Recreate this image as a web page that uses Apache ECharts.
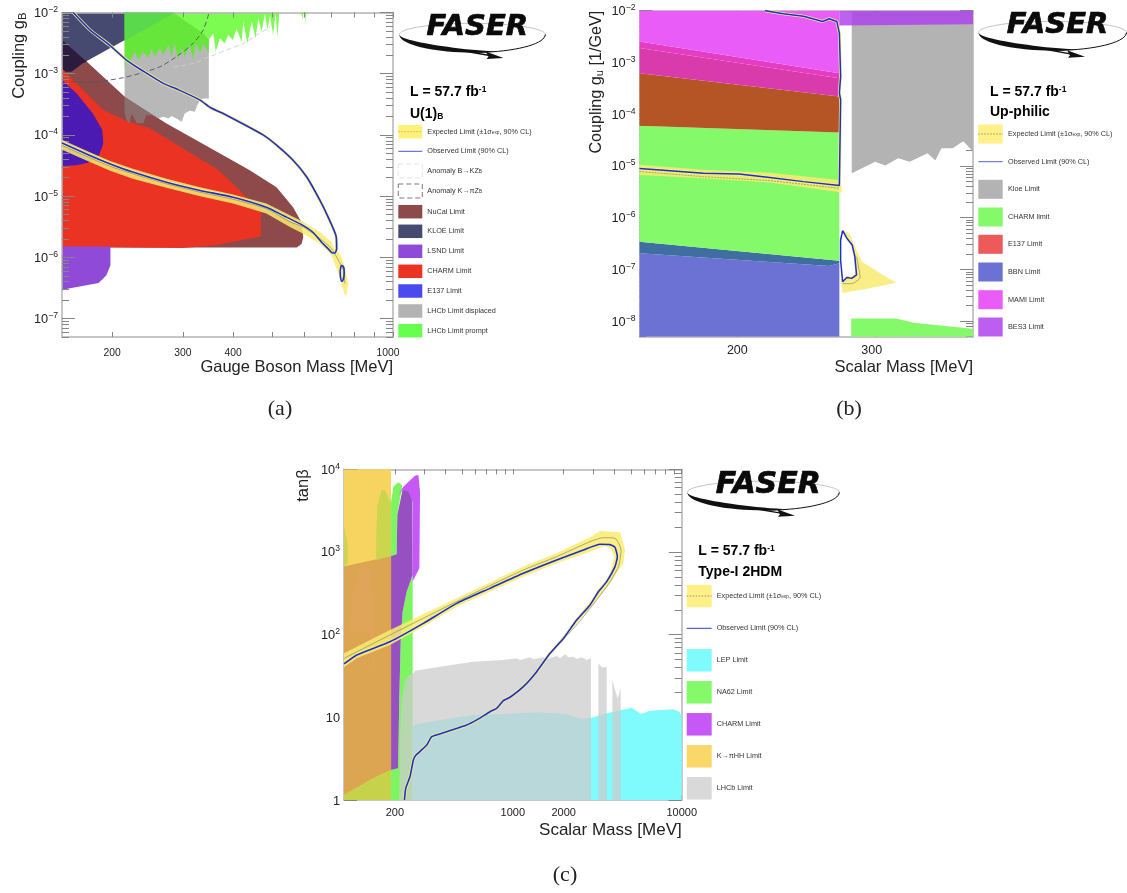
<!DOCTYPE html>
<html><head><meta charset="utf-8">
<style>html,body{margin:0;padding:0;background:#fff}#c{width:1127px;height:893px}#c canvas{filter:blur(0.35px)}</style>
<script src="https://cdn.jsdelivr.net/npm/echarts@6/dist/echarts.min.js"></script>
</head><body><div id="c"></div>
<script>
// ---------- panel (a) U(1)_B : [mass MeV, coupling]
const aKloe=[[150,1e-2],[286,1e-2],[169,1.48e-3],[158.5,1.08e-3],[150,1.08e-3]];
const aKloeNucal=[[150,3.55e-3],[173,1.57e-3],[169,1.48e-3],[158.5,1.08e-3],[150,1.08e-3]];
const aKloePrompt=[[214.7,1e-2],[286,1e-2],[214.7,3.5e-3]];
const aNucal=[[150,3.55e-3],[173,1.57e-3],[215,4.2e-4],[273,1.54e-4],[330,7.7e-5],[440,2.64e-5],[513,1.4e-5],[564,6.6e-6],[592,3.76e-6],[598,2.13e-6],[592,1.66e-6],[576,1.45e-6],[357,1.45e-6],[150,1.45e-6]];
const aCharm=[[150,1.22e-3],[166,6.1e-4],[190,2.55e-4],[216,1.7e-4],[248,1.28e-4],[300,6e-5],[364,2.8e-5],[400,1.6e-5],[469,5.5e-6],[469,2.2e-6],[357,1.56e-6],[300,1.42e-6],[244,1.44e-6],[150,1.5e-6]];
const aE137=[[150,7.9e-4],[163,4.8e-4],[179,2.24e-4],[189,1.2e-4],[190,7.2e-5],[185,4.4e-5],[174,3.5e-5],[163,3.2e-5],[150,3.1e-5]];
const aLsnd=[[150,1.5e-6],[198,1.5e-6],[198,7.4e-7],[193.5,5.1e-7],[185,3.8e-7],[166,3.35e-7],[150,2.95e-7]];
const aDisplaced=[[214.7,1e-2],[284,1e-2],[305,7.1e-3],[337,4.6e-3],[348,3.55e-3],[348,3.95e-4],[337,3.95e-4],[331,3.7e-4],[326,3.07e-4],[321,2.4e-4],[312,2.48e-4],[303,2.24e-4],[298,1.64e-4],[289,1.86e-4],[281,2.04e-4],[276,1.86e-4],[268,1.98e-4],[260,1.86e-4],[251,2.1e-4],[243,2.1e-4],[239,1.54e-4],[230,1.58e-4],[226,1.98e-4],[223,2.2e-4],[221,1.54e-4],[217,1.75e-4],[214.7,2.4e-4]];
const aPrompt=[[214.7,1e-2],[214.7,1.15e-3],[217,1.9e-3],[221,1.57e-3],[228,2.3e-3],[232,1.67e-3],[239,2.3e-3],[246,1.78e-3],[251,2.6e-3],[255,1.9e-3],[263,2.6e-3],[268,2e-3],[276,2.94e-3],[281,1.9e-3],[286,3.13e-3],[292,1.67e-3],[298,2.6e-3],[303,1.9e-3],[312,2.94e-3],[318,1.67e-3],[323,3.13e-3],[331,2.15e-3],[337,3.13e-3],[348,2.15e-3],[348,3.55e-3],[357,4.6e-3],[362,2.3e-3],[371,3.8e-3],[381,3.13e-3],[389,4.3e-3],[399,3.55e-3],[408,5.5e-3],[420,3.3e-3],[424,7.1e-3],[434,3.13e-3],[445,7.1e-3],[455,3.8e-3],[462,8e-3],[471,4.9e-3],[480,9.7e-3],[487,5.2e-3],[494,9.1e-3],[503,4.3e-3],[510,9.7e-3],[516,4e-3],[521,1e-2]];
const aPrompt2=[[592,1e-2],[595,7.5e-3],[598,1e-2]];
const aPrompt3=[[604,1e-2],[606,6.6e-3],[609,1e-2]];
const aAnomalyPi=[[158,7.4e-4],[179,7.3e-4],[197,7.9e-4],[213,8.6e-4],[239,1.05e-3],[263,1.3e-3],[289,1.9e-3],[318,3.13e-3],[337,5.2e-3],[348,9.7e-3]];
const aAnomalyK=[[284,1.27e-3],[318,1.48e-3],[350,1.9e-3],[385,2.44e-3],[424,3.13e-3],[466,4.6e-3],[494,5.9e-3],[518,9.1e-3]];
const aBand=[[150,8.35e-5],[176,5.2e-5],[197,3.8e-5],[225,2.8e-5],[273,1.92e-5],[331,1.4e-5],[400,1.06e-5],[484,7.55e-6],[554,4.86e-6],[598,3.8e-6],[658,2.6e-6],[703,1.78e-6],[717,1.3e-6],[738,1.15e-6],[759,7e-7],[774,3.74e-7],[766,2.4e-7],[759,2.4e-7],[731,5.45e-7],[703,1.08e-6],[658,1.67e-6],[598,2.44e-6],[554,3.13e-6],[484,5.2e-6],[400,7.55e-6],[331,9.95e-6],[273,1.37e-5],[225,1.92e-5],[197,2.63e-5],[176,3.6e-5],[150,5.7e-5]];
const aExpected=[[150,6.74e-5],[176,4.24e-5],[197,3.1e-5],[225,2.32e-5],[273,1.59e-5],[331,1.16e-5],[400,8.9e-6],[484,6.25e-6],[554,3.8e-6],[598,3.13e-6],[658,2.02e-6],[703,1.39e-6],[731,9e-7],[752,6.2e-7],[759,3.74e-7]];
const aObserved=[[160,1e-2],[176,5.2e-3],[197,2.94e-3],[217,1.67e-3],[239,1.1e-3],[268,6.95e-4],[292,5.5e-4],[331,3.7e-4],[351,2.8e-4],[385,2.1e-4],[475,1e-4],[513,6.8e-5],[564,3.85e-5],[610,2.05e-5],[658,8.5e-6],[690,4.5e-6],[721,2.27e-6],[724,1.38e-6],[717,1.18e-6],[707,1.18e-6],[690,1.38e-6],[664,1.77e-6],[632,2.57e-6],[598,3.3e-6],[533,4.83e-6],[484,6.6e-6],[400,9.6e-6],[331,1.24e-5],[273,1.69e-5],[225,2.47e-5],[197,3.38e-5],[176,4.6e-5],[150,7.4e-5]];
const aIsland=[[748,7.45e-7],[755,6.6e-7],[756,5.45e-7],[752,4.35e-7],[746,4.08e-7],[740,4.8e-7],[739,6e-7],[743,7.2e-7],[748,7.45e-7]];
const aXTicks=[200,300,400,500,600,700,800,900,1000];
const aXLabels=[200,300,400,1000];

// ---------- panel (b) Up-philic
const bMami=[[150,1e-2],[270,1e-2],[270,6.2e-4],[150,2.55e-3]];
const bSliver=[[150,2.55e-3],[270,6.2e-4],[270,4.97e-4],[150,1.9e-3]];
const bMamiE137=[[150,1.9e-3],[270,4.97e-4],[270,2.2e-4],[150,6.2e-4]];
const bE137Charm=[[150,6.2e-4],[270,2.2e-4],[270,4.4e-5],[150,5.95e-5]];
const bCharm=[[150,5.95e-5],[270,4.4e-5],[270,1.47e-7],[150,3.43e-7]];
const bCharmBbn=[[150,3.43e-7],[270,1.47e-7],[270,1.31e-7],[262,1.16e-7],[150,2.04e-7]];
const bBbn=[[150,2.04e-7],[262,1.16e-7],[270,1.31e-7],[270,5e-9],[150,5e-9]];
const bBes=[[270,1e-2],[400,1e-2],[400,5.5e-3],[270,5.2e-3]];
const bKloe=[[280,1e-2],[400,1e-2],[400,1.9e-5],[389,2.95e-5],[385,2.75e-5],[377,2.2e-5],[364.5,2.2e-5],[358,1.27e-5],[350,1.76e-5],[332,1.21e-5],[321,1.41e-5],[309,1.02e-5],[300,1.21e-5],[280,7.2e-6]];
const bCharmLow=[[279.6,5e-9],[279.6,1.13e-8],[319,1.13e-8],[336,9.3e-9],[396,7.2e-9],[400,7e-9],[400,5e-9]];
const bBand=[[150,1.05e-5],[181,8.4e-6],[220,7.4e-6],[270,5.36e-6],[272,3.86e-6],[272,3.05e-6],[220,4.76e-6],[181,5.77e-6],[150,6.7e-6]];
const bBandLow=[[272.6,5.8e-7],[278,4.97e-7],[284,2.37e-7],[288.5,1.41e-7],[307,7.8e-8],[319,5.5e-8],[295,4.3e-8],[272.6,3.5e-8],[271,6.5e-8],[272.6,6.3e-8],[276,7.5e-8],[280,7.3e-8],[283,8.5e-8],[281.6,1.76e-7],[279.4,2.96e-7],[275.5,4.1e-7],[272.6,5.5e-7]];
const bExpected=[[150,7.8e-6],[181,6.2e-6],[220,5.2e-6],[270,3.7e-6]];
const bExpectedLow=[[272.6,5.3e-8],[280,5.3e-8],[287,7e-8],[284,1.76e-7]];
const bObserved=[[150,8.9e-6],[164,8.1e-6],[181,7.2e-6],[201,7e-6],[220,6e-6],[243,4.97e-6],[270,4.2e-6],[271,1.9e-4],[270,2.55e-4],[271,5.4e-4],[270,3.7e-3],[268,6.2e-3],[262,7e-3],[257,6.2e-3],[243,7.8e-3],[229,8.7e-3],[217,1e-2]];
const bIsland=[[272.6,5.6e-7],[276,4e-7],[280.4,2.96e-7],[282.6,1.76e-7],[284,7.8e-8],[280,6.7e-8],[276,7e-8],[272.6,5.77e-8],[271,1.5e-7],[271,3.7e-7],[272.6,5.6e-7]];
const bXTicks=[200,300];
const bXLabels=[200,300];

// ---------- panel (c) Type-I 2HDM : [mass MeV, tan beta]
const cKhh=[[100,1e4],[190,1e4],[190,1],[100,1]];
const cKhhLow=[[100,665],[190,895],[190,2.3],[149,1.83],[100,1.15]];
const cBottom=[[100,1],[100,1.15],[149,1.83],[190,2.3],[190,1]];
const cSpike=[[155,800],[155,1680],[158,3700],[167,5630],[175,5630],[183,4460],[190,4060],[190,895]];
const cSliver=[[100,2025],[105,1273],[105,729],[100,665]];
const cBump=[[107.5,109],[113.6,363],[121.6,606],[133,729],[142.6,578],[149,275],[154,27],[140,109]];
const cNaTop=[[190,4060],[196,6170],[210,6960],[222,6340],[215,4460],[207,2800],[205,937],[190,895]];
const cNaLow=[[255,527],[235,331],[222.6,190],[216.6,82],[212.6,17],[209,2.42],[190,2.3],[190,1],[255,1]];
const cCharm=[[210,4880],[224.6,6170],[263,8380],[275.7,8540],[282,5370],[279.5,634],[255,438],[255,4060],[222,5630]];
const cCharmDark=[[190,895],[205,937],[207,2800],[222,5630],[240.5,5370],[254,4060],[255,527],[235,331],[222.6,190],[216.6,82],[212.6,17],[209,2.42],[190,2.3]];
const cLep=[[255,1],[255,8.07],[370,9.3],[583,10.7],[919,11],[1449,11.5],[2083,11],[2500,9.7],[2930,9.9],[3596,11.2],[5058,13.1],[5742,11],[6488,12],[8930,12.5],[9690,11.7],[10000,10.2],[10000,1]];
const cLhcb=[[212.6,1],[214.6,5.84],[219.6,16.2],[229.7,27],[240.5,32.5],[257.5,34],[263,36.7],[370,41],[583,47],[878,49.4],[1054,51.7],[1103,49.4],[1264,53.2],[1323,50.3],[1516,53.2],[1587,50.8],[1818,55.2],[1903,51.7],[2037,57.8],[2132,53.2],[2282,54.2],[2388,50.8],[2557,53.2],[2737,49.4],[2904,51.7],[2904,1]];
const cLhcb2=[[3209,1],[3209,45],[3360,40.3],[3596,40.3],[3596,1]];
const cLhcb3=[[3885,1],[3885,28.8],[4028,21.4],[4178,17],[4352,22.4],[4352,1]];
const cBand=[[100,59.4],[187,114],[465,275],[1154,665],[1818,964],[2866,1503],[3283,1795],[4313,1730],[4618,1057],[4513,729],[3763,418],[2866,208],[2388,137],[1660,54],[2388,158],[2866,251],[3678,480],[3975,838],[3848,1077],[3516,1180],[2866,1009],[1818,729],[1154,503],[732,331],[465,218],[295,125],[187,75],[119,51.7],[100,40.3]];
const cExpected=[[100,51.7],[187,99],[465,251],[1154,606],[1818,878],[2866,1333],[3436,1490],[4028,1463],[4373,1057],[4217,665],[3596,381],[2388,131],[1660,60]];
const cObserved=[[228,1],[232,1.38],[246,1.92],[257.5,3.05],[267,3.5],[288,4.03],[309,4.63],[331,5.84],[406,6.7],[533,8.07],[611,9.3],[732,11.7],[802,12.85],[878,15.9],[962,17.5],[1154,23.5],[1384,35.7],[1660,59.4],[1991,90],[2388,150],[2866,229],[3209,331],[3596,438],[4028,665],[4159,878],[4028,1139],[3763,1227],[3283,1238],[2616,1057],[1818,800],[1154,552],[732,363],[465,239],[295,137],[187,82],[119,56.8],[100,44.2]];
const cXTicks=[200,300,400,500,600,700,800,900,1000,2000,3000,4000,5000,6000,7000,8000,9000,10000];
const cXLabels=[200,1000,2000,10000];

function decades(min,max){const o=[];for(let e=-9;e<=4;e++){const v=Number('1e'+e);if(v>=min*0.999&&v<=max*1.001)o.push(v);}return o;}
function minors(min,max){const o=[];for(let e=-9;e<=4;e++){for(let k=2;k<=9;k++){const v=Number(k+'e'+e);if(v>=min&&v<=max)o.push(v);}}return o;}

const FONT='"Liberation Sans"', frame='#b4b4b4', tickC='#858585';
const xAxes=[],yAxes=[],series=[];
const panels=[
 {left:62,top:12.5,w:331,h:324.5,x:[150,1000],y:[5e-8,1e-2],xt:aXTicks,xl:aXLabels,lf:10.3,lm:11,shift:{1000:10},xname:'Gauge Boson Mass [MeV]',xf:16.5,yname:'Coupling g{sub|B}',yf:16.5,ypad:34},
 {left:639.5,top:10.7,w:333.5,h:326,x:[150,400],y:[5e-9,1e-2],xt:bXTicks,xl:bXLabels,lf:12.5,lm:7,shift:{300:7},xname:'Scalar Mass [MeV]',xf:16.5,yname:'Coupling g{sub|u} [1/GeV]',yf:16.2,ypad:34},
 {left:344,top:469.3,w:337.7,h:330.7,x:[100,10000],y:[1,1e4],xt:cXTicks,xl:cXLabels,lf:11,lm:7,shift:{},xname:'Scalar Mass [MeV]',xf:17,yname:'tanβ',yf:16.5,ypad:32}
];
const grids=panels.map(p=>({left:p.left,top:p.top,width:p.w,height:p.h,show:false}));
function yLab(v){const e=Math.round(Math.log10(v));if(e===0)return '{b|1}';if(e===1)return '{b|10}';return '{b|10}{s|'+String(e).replace('-','−')+'}';}
panels.forEach((p,i)=>{
 const common={type:'log',logBase:10,gridIndex:i,splitLine:{show:false},minorTick:{show:false},minorSplitLine:{show:false},z:8};
 const line={show:true,onZero:false,lineStyle:{color:frame,width:1.5}};
 const xRich={};Object.keys(p.shift).forEach(k=>{xRich['r'+k]={fontFamily:FONT,fontSize:p.lf,color:'#222',padding:[0,p.shift[k],0,0]};});
 xAxes.push({...common,min:p.x[0],max:p.x[1],position:'bottom',axisLine:line,
   axisTick:{show:true,inside:true,length:5,customValues:p.xt,lineStyle:{color:tickC,width:1}},
   axisLabel:{show:true,customValues:p.xl,margin:p.lm,fontFamily:FONT,fontSize:p.lf,color:'#222',hideOverlap:false,showMinLabel:true,showMaxLabel:true,rich:xRich,
     formatter:v=>{const s=String(Math.round(v));return p.shift[s]?'{r'+s+'|'+s+'}':s;}},
   name:p.xname,nameLocation:'end',nameGap:0,nameMoveOverlap:false,nameTextStyle:{fontFamily:FONT,fontSize:p.xf,color:'#222',align:'right',verticalAlign:'top',padding:[22,0,0,0]}});
 xAxes.push({...common,min:p.x[0],max:p.x[1],position:'top',axisLine:line,
   axisTick:{show:true,inside:true,length:5,customValues:p.xt,lineStyle:{color:tickC,width:1}},axisLabel:{show:false}});
 const maj=decades(p.y[0],p.y[1]),mi=minors(p.y[0],p.y[1]);
 yAxes.push({...common,min:p.y[0],max:p.y[1],position:'left',axisLine:line,
   axisTick:{show:true,inside:true,length:13,customValues:maj,lineStyle:{color:tickC,width:1}},
   axisLabel:{show:true,customValues:maj,margin:4,formatter:yLab,hideOverlap:false,showMinLabel:true,showMaxLabel:true,
     rich:{b:{fontFamily:FONT,fontSize:12.8,color:'#222',lineHeight:15,verticalAlign:'bottom'},s:{fontFamily:FONT,fontSize:8.6,color:'#222',lineHeight:15,verticalAlign:'top'}}},
   name:p.yname,nameLocation:'end',nameGap:0,nameRotate:90,nameMoveOverlap:false,
   nameTextStyle:{fontFamily:FONT,fontSize:p.yf,color:'#222',align:'right',verticalAlign:'bottom',padding:[0,0,p.ypad,0],
     rich:{sub:{fontFamily:FONT,fontSize:p.yf*0.68,color:'#222',verticalAlign:'bottom',padding:[6,0,0,0]}}}});
 yAxes.push({...common,min:p.y[0],max:p.y[1],position:'left',axisLine:{show:false},
   axisTick:{show:true,inside:true,length:7,customValues:mi,lineStyle:{color:tickC,width:1}},axisLabel:{show:false}});
 yAxes.push({...common,min:p.y[0],max:p.y[1],position:'right',axisLine:line,
   axisTick:{show:true,inside:true,length:13,customValues:maj,lineStyle:{color:tickC,width:1}},axisLabel:{show:false}});
 yAxes.push({...common,min:p.y[0],max:p.y[1],position:'right',axisLine:{show:false},
   axisTick:{show:true,inside:true,length:7,customValues:mi,lineStyle:{color:tickC,width:1}},axisLabel:{show:false}});
});
let zc=1;
function poly(g,name,data,fill){
 series.push({type:'custom',name,coordinateSystem:'cartesian2d',xAxisIndex:g*2,yAxisIndex:g*4,clip:true,silent:true,animation:false,z:zc++,
  data,encode:{x:0,y:1},renderItem(pa,api){if(pa.dataIndex!==0)return;return{type:'polygon',shape:{points:data.map(q=>api.coord(q))},style:{fill}};}});
}
function line(g,name,data,color,width,dash,smooth){
 series.push({type:'line',name,xAxisIndex:g*2,yAxisIndex:g*4,data,showSymbol:false,symbol:'none',silent:true,animation:false,clip:true,z:zc++,
  smooth:smooth||0,lineStyle:{color,width,type:dash||'solid'}});
}
const YEL='rgba(250,235,110,0.85)',YEL2='#f9ee86',BLUE='#1a2fcc',EXP='#8a8a6a';
// panel a
poly(0,'KLOE Limit',aKloe,'#474a70');
poly(0,'NuCal Limit',aNucal,'#8e4a4a');
poly(0,'KLOE and NuCal',aKloeNucal,'#2b1b3f');
poly(0,'CHARM Limit',aCharm,'#ea3322');
poly(0,'E137 Limit',aE137,'#4b1ab3');
poly(0,'LSND Limit',aLsnd,'#8f4bd8');
poly(0,'LHCb Limit displaced',aDisplaced,'rgba(137,137,137,0.6)');
poly(0,'LHCb Limit prompt',aPrompt,'rgba(65,251,1,0.69)');
poly(0,'LHCb Limit prompt',aPrompt2,'rgba(65,251,1,0.69)');
poly(0,'LHCb Limit prompt',aPrompt3,'rgba(65,251,1,0.69)');
poly(0,'KLOE and LHCb prompt',aKloePrompt,'#5bd94c');
line(0,'Anomaly K→πZB',aAnomalyPi,'#555',0.9,[5,3],0.3);
line(0,'Anomaly B→KZB',aAnomalyK,'#cfcfcf',0.9,[5,3],0.3);
poly(0,'Expected Limit',aBand,YEL);
line(0,'Expected band edge',aObserved,YEL2,3.2,null,0.2);
line(0,'Expected Limit',aExpected,EXP,0.7,null,0.2);
line(0,'Observed Limit',aObserved,BLUE,1.6,null,0.2);
line(0,'Observed Limit',aIsland,BLUE,1.6,null,0.3);
// panel b
poly(1,'BBN Limit',bBbn,'#6c72d3');
poly(1,'CHARM and BBN',bCharmBbn,'#3f6ea0');
poly(1,'CHARM limit',bCharm,'#84f96a');
poly(1,'E137 and CHARM',bE137Charm,'#b55425');
poly(1,'MAMI and E137',bMamiE137,'#d93bad');
poly(1,'MAMI and E137',bSliver,'#e43cc2');
poly(1,'MAMI Limit',bMami,'#ea5cf7');
poly(1,'Kloe Limit',bKloe,'#b3b3b3');
poly(1,'BES3 Limit',bBes,'rgba(174,66,237,0.83)');
poly(1,'CHARM limit',bCharmLow,'#84f96a');
poly(1,'Expected Limit',bBand,YEL);
poly(1,'Expected Limit',bBandLow,YEL2);
line(1,'Expected band edge',bObserved,YEL2,3,null,0);
line(1,'Expected Limit',bExpected,EXP,0.7,[2,1],0);
line(1,'Expected Limit',bExpectedLow,EXP,0.7,null,0.2);
line(1,'Observed Limit',bObserved,BLUE,1.5,null,0);
line(1,'Observed Limit',bIsland,BLUE,1.5,null,0);
// panel c
poly(2,'K→πHH Limit',cKhh,'#f7d35f');
poly(2,'K→πHH and CHARM',cKhhLow,'#dba552');
poly(2,'K→πHH and CHARM',cBump,'#e0a558');
poly(2,'K→πHH and NA62',cBottom,'#c6d34a');
poly(2,'K→πHH and NA62',cSpike,'#cbd64e');
poly(2,'K→πHH and NA62',cSliver,'#cbd64e');
poly(2,'NA62 Limit',cNaTop,'#7cf560');
poly(2,'NA62 Limit',cNaLow,'#7cf560');
poly(2,'CHARM Limit',cCharm,'#c658f5');
poly(2,'CHARM and NA62',cCharmDark,'#9750c0');
poly(2,'LEP Limit',cLep,'#80fbfd');
poly(2,'LHCb Limit',cLhcb,'rgba(204,204,204,0.75)');
poly(2,'LHCb Limit',cLhcb2,'rgba(204,204,204,0.75)');
poly(2,'LHCb Limit',cLhcb3,'rgba(204,204,204,0.75)');
poly(2,'Expected Limit',cBand,YEL);
line(2,'Expected band edge',cObserved,YEL2,3,null,0.15);
line(2,'Expected Limit',cExpected,EXP,0.7,null,0.2);
line(2,'Observed Limit',cObserved,BLUE,1.6,null,0.15);

// ---------- legends, labels, logos
const g=[];
const LF=7.25;
const legRich={n:{fontFamily:FONT,fontSize:LF,color:'#333'},sub:{fontFamily:FONT,fontSize:4.8,color:'#333',verticalAlign:'bottom'}};
function txt(x,y,text){g.push({type:'text',x,y,z:50,silent:true,style:{text,rich:legRich,verticalAlign:'middle',align:'left',fontFamily:FONT,fontSize:LF,fill:'#333'}});}
function sw(x,y,w,h,fill){g.push({type:'rect',x,y:y-h/2,z:50,silent:true,shape:{width:w,height:h},style:{fill}});}
function dashBox(x,y,w,h,c){g.push({type:'rect',x,y:y-h/2,z:50,silent:true,shape:{width:w,height:h},style:{fill:'none',stroke:c,lineWidth:0.8,lineDash:[5,3]}});}
function hline(x,y,w,c,d){g.push({type:'line',z:51,silent:true,shape:{x1:x,y1:y,x2:x+w,y2:y},style:{stroke:c,lineWidth:d?0.8:1,lineDash:d?[1.5,1.5]:null}});}
const expTxt='{n|Expected Limit (±1σ}{sub|exp}{n|, 90% CL)}';
// a
const aRows=[131.7,151.3,171,191,211.7,231.3,251.3,271.3,291,311,330.7];
const aNames=[expTxt,'{n|Observed Limit (90% CL)}','{n|Anomaly B→KZ}{sub|B}','{n|Anomaly K→πZ}{sub|B}','{n|NuCal Limit}','{n|KLOE Limit}','{n|LSND Limit}','{n|CHARM Limit}','{n|E137 Limit}','{n|LHCb Limit displaced}','{n|LHCb Limit prompt}'];
const aCols=['#fff07a',null,null,null,'#8e4a4a','#474a70','#8f4bd8','#ea3322','#4a4af0','#b3b3b3','#66ff4d'];
aRows.forEach((y,i)=>{if(aCols[i])sw(398.3,y,24,13.5,aCols[i]);txt(427.3,y,aNames[i]);});
hline(398.3,131.7,24,'#b8a84a',true);hline(398.3,151.3,24,'#4a55d8');
dashBox(398.3,171,24,14,'#dddddd');dashBox(398.3,191,24,14,'#555555');
// b
const bRows=[134,161.7,189.3,217,244.3,272,299.7,327];
const bNames=[expTxt,'{n|Observed Limit (90% CL)}','{n|Kloe Limit}','{n|CHARM limit}','{n|E137 Limit}','{n|BBN Limit}','{n|MAMI Limit}','{n|BES3 Limit}'];
const bCols=['#fff08a',null,'#b3b3b3','#84f96a','#ee5a5a','#6c72d3','#ea5cf7','#bc5ff0'];
bRows.forEach((y,i)=>{if(bCols[i])sw(978.3,y,24.4,19,bCols[i]);txt(1008,y,bNames[i]);});
hline(978.3,134,24.4,'#8a8040',true);hline(978.3,161.7,24.4,'#5560d8');
// c
const cRows=[596,628.3,660.3,692.3,724.3,756.3,788.3];
const cNames=[expTxt,'{n|Observed Limit (90% CL)}','{n|LEP Limit}','{n|NA62 Limit}','{n|CHARM Limit}','{n|K→πHH Limit}','{n|LHCb Limit}'];
const cCols=['#fff08a',null,'#80fbfd','#84f96a','#c658f5','#f9d768','#d9d9d9'];
cRows.forEach((y,i)=>{if(cCols[i])sw(686.7,y,25,22.5,cCols[i]);txt(716.7,y,cNames[i]);});
hline(686.7,596,25,'#8a8040',true);hline(686.7,628.3,25,'#2a3ad8');

function bold(x,y,text){g.push({type:'text',x,y,z:50,silent:true,style:{text,verticalAlign:'middle',align:'left',
  rich:{m:{fontFamily:FONT,fontWeight:'bold',fontSize:14,color:'#111'},
        s:{fontFamily:FONT,fontWeight:'bold',fontSize:8.5,color:'#111',verticalAlign:'top'},
        u:{fontFamily:FONT,fontWeight:'bold',fontSize:8.5,color:'#111',verticalAlign:'bottom'}}}});}
bold(410,92,'{m|L = 57.7 fb}{s|-1}');bold(410,114,'{m|U(1)}{u|B}');
bold(990,92,'{m|L = 57.7 fb}{s|-1}');bold(990,112,'{m|Up-philic}');
bold(698.3,551,'{m|L = 57.7 fb}{s|-1}');bold(698.3,572,'{m|Type-I 2HDM}');

function caption(x,y,t){g.push({type:'text',x,y,z:50,silent:true,style:{text:t,align:'center',verticalAlign:'middle',fontFamily:'"Liberation Serif"',fontSize:22,fill:'#222'}});}
caption(280,409,'(a)');caption(849,409,'(b)');caption(565,875,'(c)');

function logo(cx,cy,rx,ry,ax,ay,fs){
 const pt=(a,ryy)=>[cx+rx*Math.cos(a),cy+ryy*Math.sin(a)];
 const upper=[];for(let d=165;d<=375;d+=5)upper.push(pt(d*Math.PI/180,ry*0.62));
 g.push({type:'polyline',z:49,silent:true,shape:{points:upper},style:{stroke:'#aaaaaa',lineWidth:0.7,fill:'none'}});
 const right=[];for(let d=90;d>=0;d-=5)right.push(pt(d*Math.PI/180,ry));
 g.push({type:'polyline',z:49,silent:true,shape:{points:right},style:{stroke:'#111',lineWidth:1,fill:'none'}});
 const cres=[];for(let d=180;d>=70;d-=5)cres.push(pt(d*Math.PI/180,ry));
 for(let d=70;d<=180;d+=5){const a=d*Math.PI/180,p=pt(a,ry);const t=5*Math.sin(Math.PI*(180-d)/110);cres.push([p[0],p[1]-t]);}
 g.push({type:'polygon',z:49,silent:true,shape:{points:cres},style:{fill:'#111'}});
 const sx=cx-14,sy=cy+ry-2.5;
 g.push({type:'line',z:49,silent:true,shape:{x1:sx,y1:sy,x2:ax-8,y2:ay-1.5},style:{stroke:'#111',lineWidth:1.3}});
 g.push({type:'polygon',z:49,silent:true,shape:{points:[[ax,ay],[ax-18,ay-6.5],[ax-15,ay-1.5],[ax-17,ay+1]]},style:{fill:'#111'}});
 g.push({type:'text',x:cx+5,y:cy-7,z:50,silent:true,style:{text:'FASER',align:'center',verticalAlign:'middle',fontFamily:'"DejaVu Sans"',fontWeight:'bold',fontStyle:'italic',fontSize:fs,fill:'#0a0a0a',stroke:'#0a0a0a',lineWidth:0.7}});
}
logo(472.3,34.5,73,18,503.5,58,29);
logo(1052.5,32.5,74,18,1085,56.7,29);
logo(763.3,492.3,76,18,795,515.7,30);

const chart=echarts.init(document.getElementById('c'),null,{renderer:'canvas'});
chart.setOption({animation:false,backgroundColor:'#fff',grid:grids,xAxis:xAxes,yAxis:yAxes,series,graphic:{elements:g},tooltip:{show:false},legend:{show:false}});
</script></body></html>
